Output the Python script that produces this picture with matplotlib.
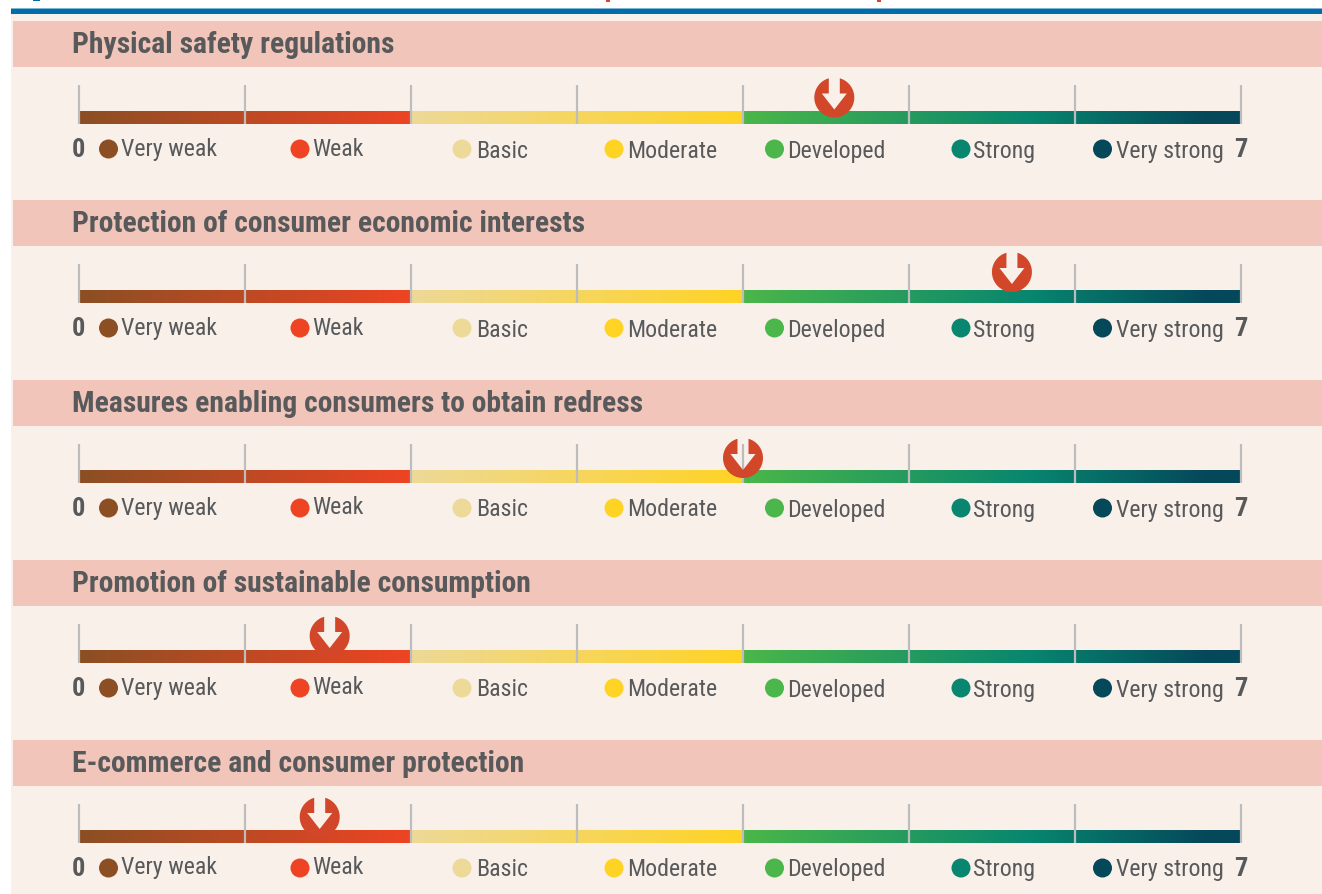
import matplotlib
matplotlib.use('Agg')
import matplotlib.pyplot as plt
from matplotlib.colors import LinearSegmentedColormap
from matplotlib.patches import Ellipse, PathPatch, Rectangle
from matplotlib.path import Path
import numpy as np

W, H = 1322, 895

panel_titles = ['Physical safety regulations',
                'Protection of consumer economic interests',
                'Measures enabling consumers to obtain redress',
                'Promotion of sustainable consumption',
                'E-commerce and consumer protection']
scores = [4.55, 5.62, 4.0, 1.51, 1.45]
scale_labels = ['Very weak', 'Weak', 'Basic', 'Moderate', 'Developed', 'Strong', 'Very strong']
scale_colors = ['#8B4F23', '#EE4423', '#EDD998', '#FFD324', '#4BB649', '#08866F', '#05485A']

# layout, in pixels
row_tops = [22, 201, 381, 561, 741]
marker_y = [98.5, 273, 459, 637, 818]
dot_x = [108.5, 300, 462, 614, 774.5, 961, 1102.5]
text_x = [121, 312.5, 476.5, 627.5, 787.5, 973.5, 1116]
text_dy = [127, 127, 129, 129, 129, 129, 129]
x0, x7 = 79, 1241
grey = '#58595B'
family = ['Roboto Condensed', 'Liberation Sans']


def to_x(v):
    return x0 + v * (x7 - x0) / 7


def draw_marker(ax, v, cy):
    # red disc with a down arrow cut out of it, open at the top
    cx = to_x(v)
    r = 20
    sw, hw = 5.5, 12.5
    start = np.arcsin(sw / r)
    ang = np.linspace(start, 2 * np.pi - start, 80)
    arc = np.column_stack([cx + r * np.sin(ang), cy - r * np.cos(ang)])
    top = cy - r * np.cos(start)
    arrow = np.array([[cx - sw, top], [cx - sw, cy - 4], [cx - hw, cy - 4],
                      [cx, cy + 12], [cx + hw, cy - 4], [cx + sw, cy - 4], [cx + sw, top]])
    verts = np.vstack([arc, arrow, arc[:1]])
    ax.add_patch(PathPatch(Path(verts), fc='#D2472A', ec='none', zorder=6))


fig = plt.figure(figsize=(W / 100, H / 100), dpi=100, facecolor='white')
ax = fig.add_axes([0, 0, 1, 1])
ax.set_xlim(0, W)
ax.set_ylim(H, 0)
ax.axis('off')

ax.add_patch(Rectangle((11, 15), W, H, fc='#F9F0EA', ec='none', zorder=0))
ax.add_patch(Rectangle((11, 9), W, 1, fc='#7FB5D5', ec='none', zorder=1))
ax.add_patch(Rectangle((11, 10), W, 5, fc='#006DAA', ec='none', zorder=1))

# bottoms of the cut off heading above the rule
ax.add_patch(Rectangle((33, 0), 7, 1.5, fc='#006DAA', ec='none'))
ax.add_patch(Rectangle((606, 0), 4, 2.5, fc='#D2472A', ec='none'))
ax.add_patch(Rectangle((877, 0), 4, 2.5, fc='#D2472A', ec='none'))

cmap = LinearSegmentedColormap.from_list('grade', [
    (0, scale_colors[0]), (2 / 7, scale_colors[1]), (2 / 7, scale_colors[2]),
    (4 / 7, scale_colors[3]), (4 / 7, scale_colors[4]), (5.73 / 7, scale_colors[5]),
    (6.8 / 7, scale_colors[6]), (1, scale_colors[6])], N=1024)
ramp = np.linspace(0, 1, 1024).reshape(1, -1)

for i, title in enumerate(panel_titles):
    top = row_tops[i]
    ax.add_patch(Rectangle((13, top), W, 46, fc='#F1C5B9', ec='none', zorder=1))
    ax.text(72, top + 23, title, family=family, weight='bold', fontsize=21.3, color=grey,
            va='center', ha='left', zorder=3)
    ax.imshow(ramp, cmap=cmap, vmin=0, vmax=1, aspect='auto', interpolation='bilinear',
              extent=(x0, x7, top + 103, top + 90), zorder=2)
    for t in range(8):
        ax.plot([to_x(t), to_x(t)], [top + 64, top + 103], color='#BDBDBD', lw=1.6,
                solid_capstyle='butt', zorder=4)
    ax.text(78, top + 128, '0', family=family, weight='bold', fontsize=19, color=grey,
            va='center', ha='center', zorder=3)
    ax.text(1241, top + 128, '7', family=family, weight='bold', fontsize=19, color=grey,
            va='center', ha='center', zorder=3)
    for j, label in enumerate(scale_labels):
        ax.add_patch(Ellipse((dot_x[j], top + 128), 19, 19, fc=scale_colors[j], ec='none', zorder=3))
        ax.text(text_x[j], top + text_dy[j], label, family=family, fontsize=17.2, color=grey,
                va='center', ha='left', zorder=3)
    draw_marker(ax, scores[i], marker_y[i])

ax.set_xlim(0, W)
ax.set_ylim(H, 0)
fig.savefig('out.png', dpi=100)
